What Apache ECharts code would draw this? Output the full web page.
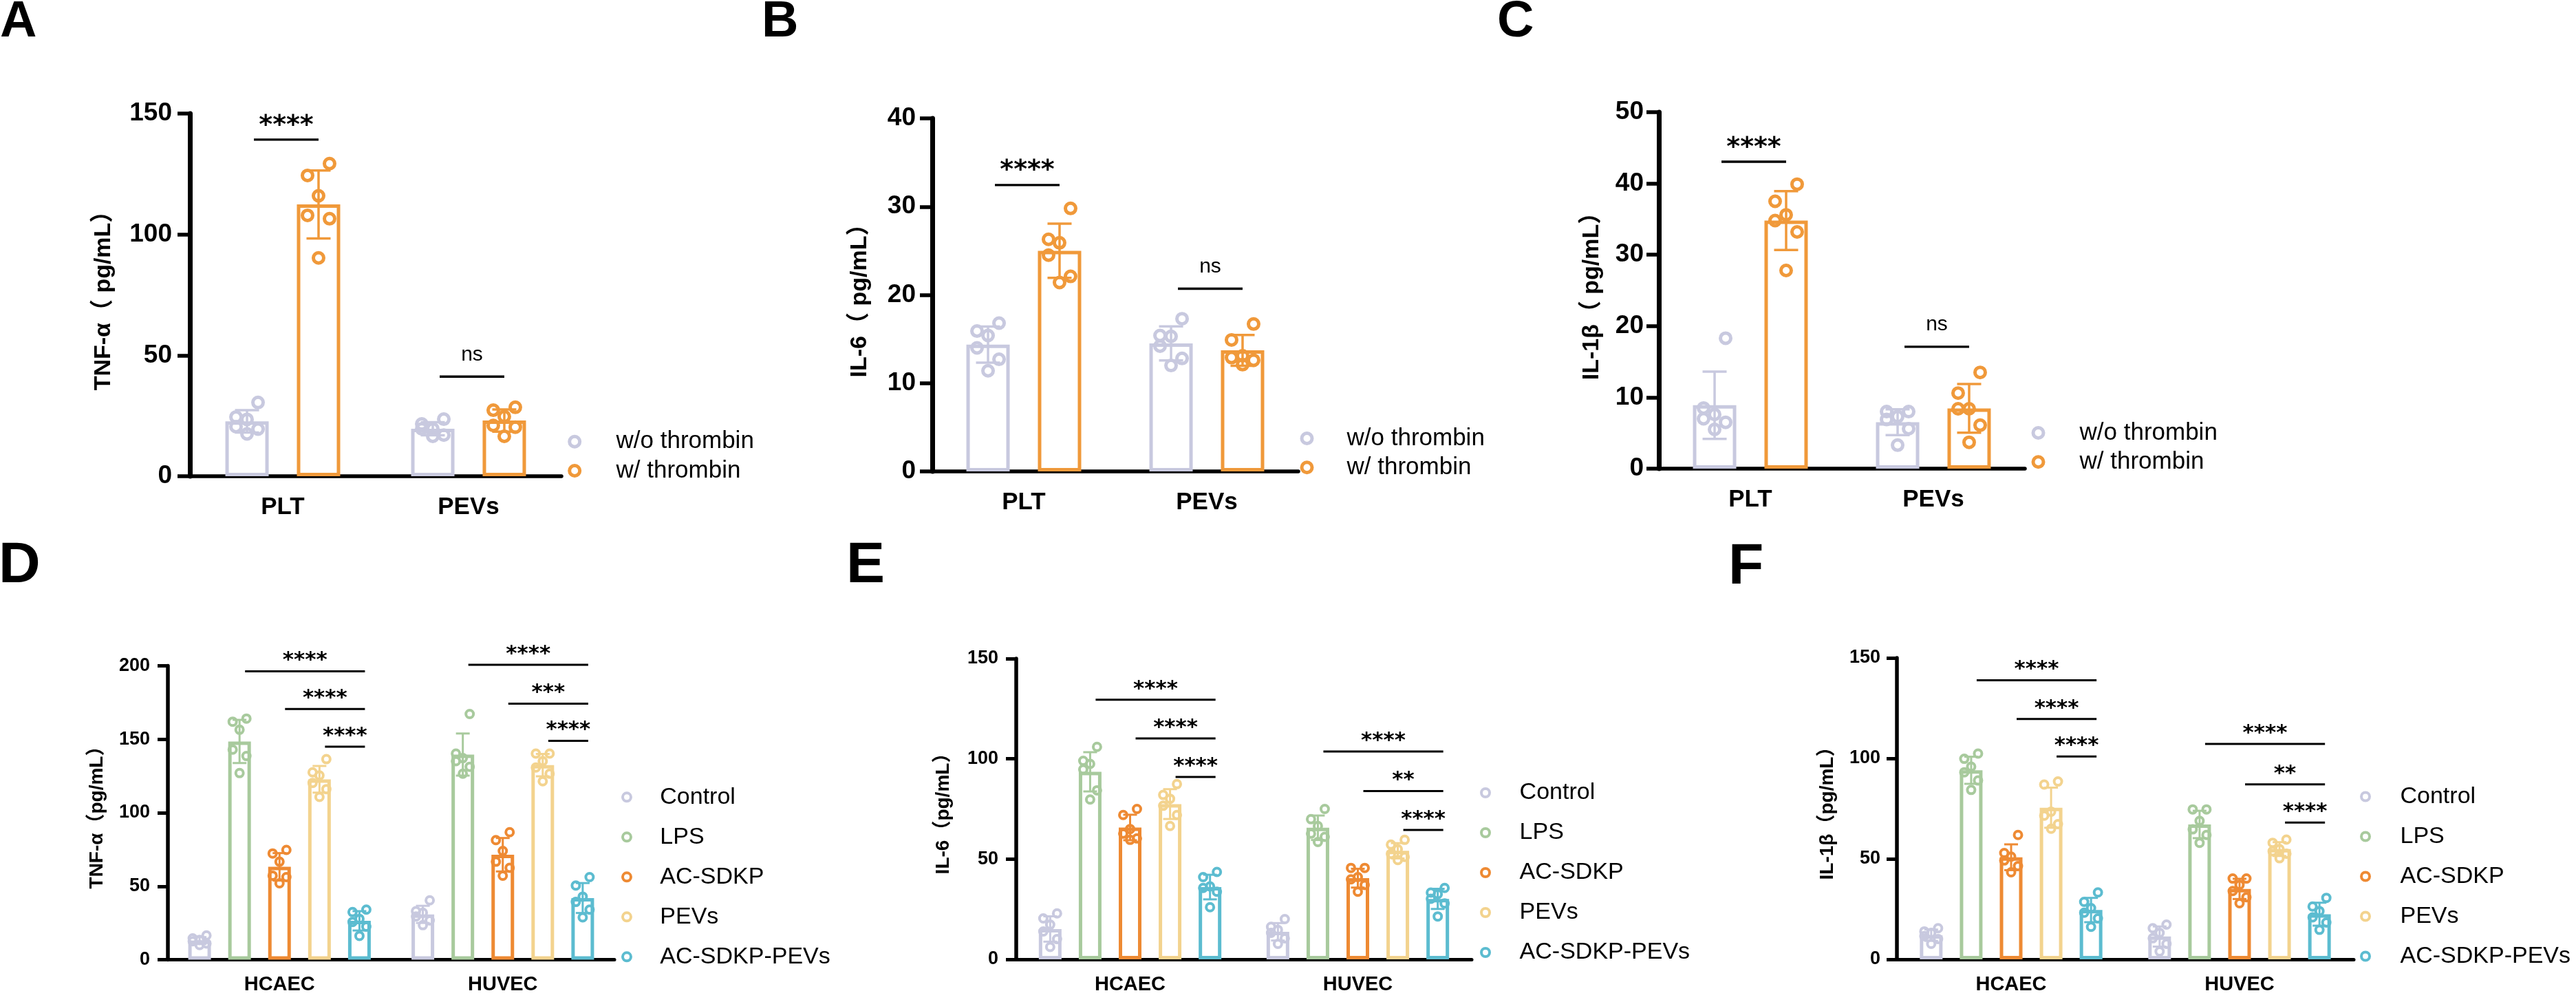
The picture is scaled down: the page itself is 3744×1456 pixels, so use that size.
<!DOCTYPE html>
<html>
<head>
<meta charset="utf-8">
<script src="https://cdn.jsdelivr.net/npm/echarts@6/dist/echarts.min.js"></script>
<style>
html,body{margin:0;padding:0;background:#fff;}
#main{width:3744px;height:1456px;}
</style>
</head>
<body>
<div id="main"></div>
<script>
// ---- top row: platelets with / without thrombin ----
var thrombinGroups = ['w/o thrombin', 'w/ thrombin'];
var thrombinColors = ['#C8C9DF', '#F0993A'];
var thrombinCats = ['PLT', 'PEVs'];

// points[group][category]
var tnfThrombin = [
    [[30.5, 24.5, 23.5, 20.5, 19.5, 17.5], [23.6, 21.6, 19.6, 19.6, 17.0, 16.5]],
    [[129.3, 124.4, 116.0, 107.9, 106.5, 90.3], [28.5, 27.3, 24.7, 21.0, 20.3, 16.5]]
];
var il6Thrombin = [
    [[16.8, 15.9, 15.4, 14.0, 12.7, 11.4], [17.3, 15.4, 15.3, 14.2, 12.8, 12.0]],
    [[29.8, 26.3, 25.9, 24.5, 22.1, 21.4], [16.7, 14.9, 13.1, 12.9, 12.6, 12.1]]
];
var il1bThrombin = [
    [[18.3, 8.5, 7.6, 7.0, 6.5, 5.5], [8.0, 8.0, 7.3, 6.9, 5.6, 3.3]],
    [[39.9, 37.5, 35.6, 34.8, 33.2, 27.8], [13.5, 10.6, 8.4, 8.4, 6.1, 3.7]]
];
// [category, fromGroup, toGroup, y]
var sigTnfThrombin = [[0, 0, 1, 139.2], [1, 0, 1, 41.2]];
var sigIl6Thrombin = [[0, 0, 1, 32.45], [1, 0, 1, 20.7]];
var sigIl1bThrombin = [[0, 0, 1, 43.05], [1, 0, 1, 17.1]];
var sigLabelsThrombin = ['****', 'ns'];

// ---- bottom row: endothelial cells ----
var cellGroups = ['Control', 'LPS', 'AC-SDKP', 'PEVs', 'AC-SDKP-PEVs'];
var cellColors = ['#C8C9DF', '#A8CA9D', '#EE8A33', '#F3D38E', '#5CBCD0'];
var cellCats = ['HCAEC', 'HUVEC'];

var tnfCells = [
    [[16.5, 14.5, 13.5, 12.5, 11.0, 10.0], [40.4, 33.0, 32.0, 29.4, 26.7, 23.5]],
    [[164.1, 162.0, 156.5, 143.0, 138.6, 127.0], [167.2, 140.3, 137.2, 135.1, 131.3, 126.6]],
    [[74.7, 72.3, 66.7, 57.2, 56.2, 52.0], [86.8, 81.4, 74.0, 66.7, 62.5, 57.2]],
    [[136.5, 127.5, 125.4, 120.3, 116.1, 110.8], [140.3, 140.3, 135.1, 130.8, 126.6, 121.4]],
    [[34.1, 32.4, 27.8, 25.7, 22.5, 16.2], [56.2, 50.5, 42.9, 39.3, 34.1, 28.8]]
];
var il6Cells = [
    [[22.9, 20.4, 17.3, 13.9, 10.1, 6.2], [20.1, 16.2, 14.7, 13.2, 10.5, 7.7]],
    [[106.0, 99.0, 97.5, 94.7, 84.3, 79.7], [75.0, 69.9, 66.5, 62.7, 61.1, 58.5]],
    [[75.0, 72.0, 65.0, 62.7, 60.3, 59.6], [45.6, 45.6, 41.0, 39.9, 37.1, 33.7]],
    [[87.4, 82.0, 80.1, 76.6, 72.0, 66.5], [59.6, 57.2, 54.9, 52.6, 51.1, 49.5]],
    [[43.6, 41.0, 36.4, 35.6, 33.7, 26.0], [35.6, 33.3, 32.5, 30.2, 27.9, 21.4]]
];
var il1bCells = [
    [[15.5, 13.9, 13.2, 11.6, 10.1, 7.7], [17.3, 15.5, 13.2, 10.5, 7.7, 3.9]],
    [[102.4, 99.8, 95.9, 93.1, 89.0, 84.3], [74.6, 74.6, 68.9, 64.7, 61.9, 58.0]],
    [[61.9, 52.9, 51.1, 49.2, 46.4, 43.3], [40.2, 40.2, 37.1, 34.0, 30.9, 27.9]],
    [[88.5, 87.0, 73.5, 71.5, 67.3, 65.0], [59.6, 58.0, 54.9, 53.8, 52.6, 50.3]],
    [[33.3, 28.6, 25.5, 23.2, 20.4, 16.2], [30.6, 26.3, 24.0, 20.9, 18.3, 14.7]]
];
var sigTnfCells = [[0, 1, 4, 196.3], [0, 2, 4, 170.6], [0, 3, 4, 145], [1, 1, 4, 200.7], [1, 2, 4, 174.2], [1, 3, 4, 149]];
var sigIl6Cells = [[0, 1, 4, 129.5], [0, 2, 4, 110.2], [0, 3, 4, 91], [1, 1, 4, 103.7], [1, 2, 4, 83.9], [1, 3, 4, 64.5]];
var sigIl1bCells = [[0, 1, 4, 138.9], [0, 2, 4, 119.6], [0, 3, 4, 100.9], [1, 1, 4, 107.2], [1, 2, 4, 87.1], [1, 3, 4, 68.1]];
var sigLabelsTnfCells = ['****', '****', '****', '****', '***', '****'];
var sigLabelsIlCells = ['****', '****', '****', '****', '**', '****'];

var FONT = '"Liberation Sans", Arial, "Noto Sans CJK SC", sans-serif';
var STAR_FONT = '"DejaVu Sans", sans-serif';

// row styles
var topStyle = {
    barWidth: 63, barGap: 0.65, barBorder: 5, yAxisWidth: 7, xAxisWidth: 5.5, tickWidth: 5.5,
    tickLen: 18, xTickLen: 20, xLabelMargin: 28,
    tickFont: 37, catFont: 35, nameFont: 34, dot: 15, dotBorder: 5, spread: 16,
    errWidth: 3.5, errCap: 17.5, sigWidth: 3.3, sigPad: [10, 0], starFont: 38, starLift: 20.3, nsLift: 32,
    legendFont: 35, legendLine: 36, legendIcon: 15, legendBorder: 5, legendGap: 6.3
};
var bottomStyle = {
    barWidth: 33, barGap: 0.76, barBorder: 5, yAxisWidth: 5.5, xAxisWidth: 5, tickWidth: 5,
    tickLen: 15, xTickLen: 16, xLabelMargin: 22,
    tickFont: 27, catFont: 29, nameFont: 28, dot: 11, dotBorder: 4, spread: 10,
    errWidth: 3, errCap: 10, sigWidth: 3, sigPad: [8, 8], starFont: 31, starLift: 15.2, nsLift: 30,
    legendFont: 34, legendLine: 36, legendIcon: 12, legendBorder: 4, legendGap: 22
};

// layout of the six panels (pixels)
var panels = [
    {letter: 'A', lx: 0, ly: -4, lsize: 74, pts: tnfThrombin, sig: sigTnfThrombin, sigLabels: sigLabelsThrombin,
     groups: thrombinGroups, colors: thrombinColors, cats: thrombinCats, st: topStyle,
     grid: {left: 276, top: 165, width: 540, height: 527}, max: 150, interval: 50,
     name: 'TNF-α（ pg/mL）', nameGap: 108, labelMargin: 26,
     legend: {iconX: 832.7, textX: 893, top: 623.7}},
    {letter: 'B', lx: 1107, ly: -4, lsize: 74, pts: il6Thrombin, sig: sigIl6Thrombin, sigLabels: sigLabelsThrombin,
     groups: thrombinGroups, colors: thrombinColors, cats: thrombinCats, st: topStyle,
     grid: {left: 1355, top: 172, width: 532, height: 513}, max: 40, interval: 10,
     name: 'IL-6（ pg/mL）', nameGap: 88, labelMargin: 24,
     legend: {iconX: 1897, textX: 1955, top: 619}},
    {letter: 'C', lx: 2176, ly: -4, lsize: 74, pts: il1bThrombin, sig: sigIl1bThrombin, sigLabels: sigLabelsThrombin,
     groups: thrombinGroups, colors: thrombinColors, cats: thrombinCats, st: topStyle,
     grid: {left: 2411, top: 163, width: 532, height: 518}, max: 50, interval: 10,
     name: 'IL-1β（ pg/mL）', nameGap: 80, labelMargin: 22,
     legend: {iconX: 2960, textX: 3020, top: 611}},
    {letter: 'D', lx: -2, ly: 781, lsize: 84, pts: tnfCells, sig: sigTnfCells, sigLabels: sigLabelsTnfCells,
     groups: cellGroups, colors: cellColors, cats: cellCats, st: bottomStyle,
     grid: {left: 244, top: 967.5, width: 649, height: 427}, max: 200, interval: 50,
     name: 'TNF-α（pg/mL）', nameGap: 89, labelMargin: 26,
     legend: {iconX: 909, textX: 957.3, top: 1140.3}},
    {letter: 'E', lx: 1230, ly: 781, lsize: 84, pts: il6Cells, sig: sigIl6Cells, sigLabels: sigLabelsIlCells,
     groups: cellGroups, colors: cellColors, cats: cellCats, st: bottomStyle,
     grid: {left: 1477, top: 957, width: 662, height: 437}, max: 150, interval: 50,
     name: 'IL-6（pg/mL）', nameGap: 92, labelMargin: 26,
     legend: {iconX: 2157, textX: 2206.6, top: 1134}},
    {letter: 'F', lx: 2512, ly: 783, lsize: 84, pts: il1bCells, sig: sigIl1bCells, sigLabels: sigLabelsIlCells,
     groups: cellGroups, colors: cellColors, cats: cellCats, st: bottomStyle,
     grid: {left: 2757, top: 956, width: 664, height: 438}, max: 150, interval: 50,
     name: 'IL-1β（pg/mL）', nameGap: 87, labelMargin: 24,
     legend: {iconX: 3436, textX: 3486.5, top: 1139.5}}
];

// GraphPad-like horizontal spread of the 6 replicate dots
var spreadPattern = [1, -1, 0, -1, 1, 0];

function mean(a) {
    var s = 0;
    for (var i = 0; i < a.length; i++) s += a[i];
    return s / a.length;
}
function sd(a) {
    var m = mean(a), s = 0;
    for (var i = 0; i < a.length; i++) s += (a[i] - m) * (a[i] - m);
    return Math.sqrt(s / (a.length - 1));
}

var option = {
    animation: false,
    backgroundColor: '#fff',
    title: [], legend: [], grid: [], xAxis: [], yAxis: [], series: []
};

panels.forEach(function (p, pi) {
    var st = p.st, n = p.groups.length;
    var step = st.barWidth * (1 + st.barGap);
    var offsetOf = function (g) { return (g - (n - 1) / 2) * step; };

    option.title.push({
        text: p.letter, left: p.lx, top: p.ly, padding: 0,
        textStyle: {fontSize: p.lsize, fontWeight: 'bold', fontFamily: FONT, color: '#000'}
    });

    option.grid.push(p.grid);

    option.xAxis.push({
        type: 'category', gridIndex: pi, data: p.cats,
        axisLine: {lineStyle: {color: '#000', width: st.xAxisWidth}},
        axisTick: {alignWithLabel: true, length: st.xTickLen, lineStyle: {color: '#000', width: st.tickWidth}},
        axisLabel: {margin: st.xLabelMargin, color: '#000', fontSize: st.catFont, fontWeight: 'bold', fontFamily: FONT},
        splitLine: {show: false}
    });

    option.yAxis.push({
        type: 'value', gridIndex: pi, min: 0, max: p.max, interval: p.interval,
        name: p.name, nameLocation: 'middle', nameRotate: 90, nameGap: p.nameGap,
        nameTextStyle: {color: '#000', fontSize: st.nameFont, fontWeight: 'bold', fontFamily: FONT},
        axisLine: {show: true, lineStyle: {color: '#000', width: st.yAxisWidth}},
        axisTick: {show: true, length: st.tickLen, lineStyle: {color: '#000', width: st.tickWidth}},
        axisLabel: {margin: p.labelMargin, color: '#000', fontSize: st.tickFont, fontWeight: 'bold', fontFamily: FONT},
        splitLine: {show: false}
    });

    var iconLeft = p.legend.iconX - st.legendIcon / 2;
    option.legend.push({
        orient: 'vertical', left: iconLeft, top: p.legend.top, padding: 0,
        itemWidth: st.legendIcon, itemHeight: st.legendIcon, itemGap: st.legendGap,
        selectedMode: false,
        textStyle: {fontSize: st.legendFont, lineHeight: st.legendLine, color: '#000', fontFamily: FONT,
            padding: [0, 0, 0, p.legend.textX - iconLeft - st.legendIcon - 5]},
        data: p.groups.map(function (g, gi) {
            return {name: g, icon: 'circle',
                itemStyle: {color: 'rgba(0,0,0,0)', borderColor: p.colors[gi], borderWidth: st.legendBorder}};
        })
    });

    // bars (means)
    p.groups.forEach(function (g, gi) {
        option.series.push({
            type: 'bar', name: g, xAxisIndex: pi, yAxisIndex: pi,
            barWidth: st.barWidth, barGap: (st.barGap * 100) + '%',
            itemStyle: {color: '#fff', borderColor: p.colors[gi], borderWidth: st.barBorder},
            data: p.cats.map(function (c, ci) { return mean(p.pts[gi][ci]); }),
            silent: true, z: 2
        });
    });

    // error bars (mean ± SD)
    var errData = [];
    p.groups.forEach(function (g, gi) {
        p.cats.forEach(function (c, ci) {
            errData.push([ci, gi, mean(p.pts[gi][ci]), sd(p.pts[gi][ci])]);
        });
    });
    option.series.push({
        type: 'custom', xAxisIndex: pi, yAxisIndex: pi, data: errData,
        encode: {x: 0, y: 2}, silent: true, z: 3,
        renderItem: function (params, api) {
            var ci = api.value(0), gi = api.value(1), m = api.value(2), s = api.value(3);
            var hi = api.coord([ci, m + s]), lo = api.coord([ci, m - s]);
            var x = hi[0] + offsetOf(gi), w = st.errCap;
            var style = {stroke: p.colors[gi], lineWidth: st.errWidth};
            return {type: 'group', children: [
                {type: 'line', shape: {x1: x, y1: hi[1], x2: x, y2: lo[1]}, style: style},
                {type: 'line', shape: {x1: x - w, y1: hi[1], x2: x + w, y2: hi[1]}, style: style},
                {type: 'line', shape: {x1: x - w, y1: lo[1], x2: x + w, y2: lo[1]}, style: style}
            ]};
        }
    });

    // individual replicate dots
    p.groups.forEach(function (g, gi) {
        var dots = [];
        p.cats.forEach(function (c, ci) {
            p.pts[gi][ci].forEach(function (v, k) {
                dots.push({value: [ci, v], symbolOffset: [offsetOf(gi) + spreadPattern[k] * st.spread, 0]});
            });
        });
        option.series.push({
            type: 'scatter', name: g, xAxisIndex: pi, yAxisIndex: pi,
            symbol: 'circle', symbolSize: st.dot,
            itemStyle: {color: 'rgba(0,0,0,0)', borderColor: p.colors[gi], borderWidth: st.dotBorder, opacity: 1},
            data: dots, silent: true, z: 4
        });
    });

    // significance brackets
    option.series.push({
        type: 'custom', xAxisIndex: pi, yAxisIndex: pi, data: p.sig,
        encode: {x: 0, y: 3}, silent: true, z: 5,
        renderItem: function (params, api) {
            var ci = api.value(0), a = api.value(1), b = api.value(2), y = api.value(3);
            var pt = api.coord([ci, y]);
            var x1 = pt[0] + offsetOf(a) + st.sigPad[0], x2 = pt[0] + offsetOf(b) + st.sigPad[1];
            var lab = p.sigLabels[params.dataIndex], isNs = lab === 'ns';
            return {type: 'group', children: [
                {type: 'line', shape: {x1: x1, y1: pt[1], x2: x2, y2: pt[1]},
                 style: {stroke: '#000', lineWidth: st.sigWidth}},
                {type: 'text', style: {
                    text: lab, x: (x1 + x2) / 2, y: pt[1] - (isNs ? st.nsLift : st.starLift),
                    align: 'center', verticalAlign: 'middle', fill: '#000',
                    fontSize: isNs ? 30 : st.starFont, fontWeight: isNs ? 'normal' : 'bold',
                    fontFamily: isNs ? FONT : STAR_FONT
                }}
            ]};
        }
    });
});

var chart = echarts.init(document.getElementById('main'), null, {renderer: 'canvas'});
chart.setOption(option);
</script>
</body>
</html>
